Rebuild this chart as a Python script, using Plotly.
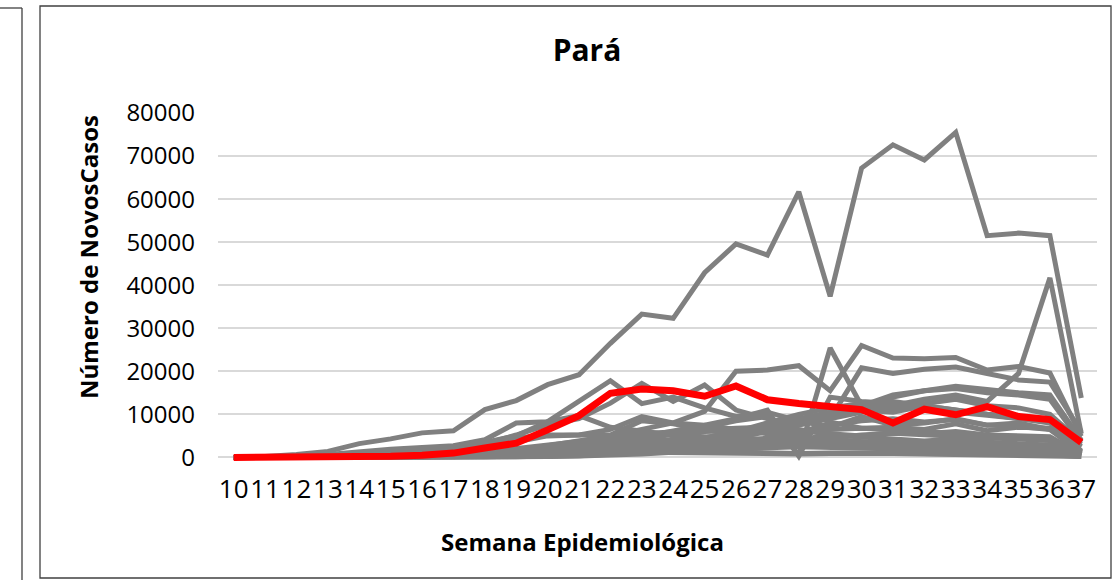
import plotly.graph_objects as go

semanas = ["10", "11", "12", "13", "14", "15", "16", "17", "18", "19", "20", "21", "22", "23",
           "24", "25", "26", "27", "28", "29", "30", "31", "32", "33", "34", "35", "36", "37"]

# Pará (destacado em vermelho)
pa = [0, 0, 20, 60, 120, 250, 500, 1000, 2200, 3300, 6400, 9700, 14900, 15900, 15500, 14200,
      16600, 13400, 12500, 11700, 11100, 8000, 11200, 9900, 11800, 9500, 8800, 3500]

# Demais estados (em cinza)
sp = [0, 200, 700, 1400, 3200, 4300, 5700, 6200, 11100, 13200, 16900, 19200, 26500, 33300, 32300,
      42900, 49600, 47000, 61700, 37400, 67200, 72600, 69100, 75500, 51500, 52100, 51500, 13800]
rj = [0, 50, 250, 700, 1400, 1900, 2300, 2700, 4100, 8000, 8300, 13000, 17800, 12500, 14000, 11500,
      9500, 10500, 8500, 7000, 9500, 7500, 8000, 9000, 7500, 8000, 6500, 2500]
ce = [0, 0, 50, 250, 600, 1000, 1600, 2300, 3200, 5200, 7600, 9000, 12600, 17200, 13000, 16800,
      11000, 9000, 6500, 5200, 4800, 4200, 3800, 4300, 3500, 3200, 2900, 1300]
am = [0, 0, 30, 150, 400, 900, 1800, 2000, 3500, 5000, 8300, 9700, 7000, 6000, 5200, 4800, 4500,
      4200, 3800, 4000, 3600, 3200, 3000, 3300, 2800, 2900, 2600, 900]
pe = [0, 0, 20, 80, 250, 600, 1200, 2000, 3000, 4500, 5200, 5300, 5200, 8500, 7800, 6500, 5500,
      6500, 4500, 8200, 6800, 7000, 6500, 7800, 6200, 7000, 6800, 1200]
ma = [0, 0, 0, 30, 100, 300, 700, 1200, 2200, 3500, 5000, 5200, 6500, 9500, 8000, 7500, 6500, 5500,
      4500, 4000, 3600, 3300, 3000, 2700, 2500, 2300, 2100, 900]
ba = [0, 0, 20, 60, 150, 300, 500, 800, 1200, 1800, 2700, 3800, 5000, 6500, 8000, 10700, 20000,
      20300, 21300, 15500, 26000, 23100, 22900, 23200, 20300, 21100, 19600, 4900]
mg = [0, 0, 10, 40, 90, 150, 250, 400, 600, 900, 1400, 2000, 2800, 4000, 5500, 7000, 8500, 9500,
      500, 25400, 12000, 14500, 15500, 16000, 15000, 14500, 13500, 3500]
go_ = [0, 0, 0, 10, 30, 60, 100, 200, 300, 500, 700, 1000, 1500, 2200, 3000, 4000, 5500, 7000,
       9000, 9000, 20800, 19500, 20500, 21000, 19500, 18000, 17500, 6000]
rs = [0, 0, 0, 10, 30, 50, 100, 150, 250, 400, 600, 800, 1200, 1800, 2500, 3500, 4500, 6000, 7500,
      9000, 10500, 12000, 13500, 14500, 13000, 19500, 41700, 5500]
sc = [0, 0, 0, 10, 20, 40, 80, 150, 250, 400, 600, 900, 1300, 1900, 2700, 3600, 4800, 6200, 7800,
      9500, 11500, 14000, 15500, 16500, 15800, 15000, 14500, 4000]
df = [0, 0, 20, 60, 120, 200, 300, 500, 800, 1200, 1800, 2500, 3500, 4800, 6000, 7500, 9000, 11000,
      300, 14000, 13000, 12500, 11500, 10500, 9800, 9000, 8500, 3000]
pr = [0, 0, 10, 40, 80, 120, 150, 200, 300, 450, 650, 900, 1300, 2000, 3000, 4500, 6000, 8000,
      10000, 11500, 12500, 13000, 12000, 11000, 10000, 9000, 8000, 2500]
mt = [0, 0, 10, 30, 60, 100, 150, 200, 280, 400, 600, 900, 1400, 2200, 3200, 4500, 6000, 7500,
      9000, 10500, 12000, 11500, 12500, 13500, 12000, 11500, 10000, 3500]
es = [0, 0, 10, 50, 150, 300, 500, 800, 1200, 2000, 3000, 3800, 4500, 5500, 6000, 6500, 6800, 7000,
      8000, 9500, 11000, 10500, 12000, 11000, 10000, 9500, 9000, 1500]
pb = [0, 0, 0, 10, 40, 100, 200, 400, 700, 1200, 2000, 2800, 3800, 4800, 5500, 6000, 6200, 6500,
      6000, 7500, 8500, 9000, 8200, 8800, 7500, 7200, 6500, 1000]
rn = [0, 0, 0, 10, 30, 80, 150, 300, 500, 800, 1300, 2000, 2800, 3500, 4200, 4500, 4400, 4200,
      3800, 5500, 5000, 5800, 5500, 6000, 5200, 5000, 4800, 700]
al = [0, 0, 0, 10, 20, 50, 120, 250, 450, 800, 1300, 1900, 2500, 3000, 3300, 3200, 3000, 2800,
      2500, 2300, 2100, 1900, 1700, 1600, 1500, 1400, 1300, 500]
se = [0, 0, 0, 5, 15, 30, 60, 120, 250, 450, 800, 1200, 1800, 2400, 2800, 3200, 3300, 3500, 3400,
      3200, 3000, 2800, 2600, 2400, 2200, 2100, 1900, 700]
pi = [0, 0, 0, 5, 15, 40, 80, 150, 300, 500, 800, 1200, 1700, 2200, 2600, 3000, 3300, 3500, 3600,
      3500, 3400, 3300, 3200, 3000, 2900, 2800, 2700, 1000]
ms = [0, 0, 0, 5, 10, 20, 40, 70, 100, 150, 250, 400, 700, 1100, 1700, 2500, 3500, 4500, 5500,
      6500, 6800, 6500, 6000, 5500, 5000, 4500, 4000, 1500]
to = [0, 0, 0, 5, 10, 20, 30, 50, 80, 120, 200, 300, 500, 800, 1200, 1700, 2300, 3000, 3800, 4500,
      5200, 5600, 5300, 5000, 4600, 4200, 3900, 1300]
ro = [0, 0, 0, 0, 5, 10, 20, 40, 80, 150, 300, 500, 800, 1100, 1400, 1700, 2000, 2300, 2500, 2600,
      2700, 2600, 2500, 2400, 2200, 2000, 1800, 600]
ap = [0, 0, 0, 5, 10, 20, 40, 80, 150, 300, 500, 800, 1200, 1600, 2000, 2400, 2700, 3000, 3000,
      2900, 2800, 2600, 2400, 2200, 2000, 1900, 1700, 600]
rr = [0, 0, 0, 10, 30, 60, 150, 300, 600, 900, 1200, 1500, 1800, 1700, 1500, 1300, 1100, 1000, 900,
      1000, 1100, 1000, 900, 800, 700, 700, 600, 200]
ac = [0, 0, 0, 5, 10, 20, 50, 100, 200, 400, 700, 900, 1100, 1200, 1100, 1000, 900, 850, 800, 900,
      1000, 900, 800, 700, 650, 600, 550, 200]

cinza = [sp, rj, ce, am, pe, ma, ba, mg, go_, rs, sc, df, pr, mt, es, pb, rn, al, se, pi, ms, to,
         ro, ap, rr, ac]

fig = go.Figure()
for serie in cinza:
    fig.add_trace(go.Scatter(x=semanas, y=serie, mode="lines",
                             line=dict(color="#808080", width=5), hoverinfo="skip"))
fig.add_trace(go.Scatter(x=semanas, y=pa, mode="lines", name="Pará",
                         line=dict(color="#FF0000", width=7)))

L, R, T, B = 218, 22, 113, 117
W, H = 1119, 580
pw, ph = W - L - R, H - T - B


def px(x):
    return (x - L) / pw


def py(y):
    return (H - B - y) / ph


fig.update_layout(
    width=W, height=H,
    margin=dict(l=L, r=R, t=T, b=B),
    paper_bgcolor="white", plot_bgcolor="white",
    showlegend=False,
    font=dict(family="Open Sans", color="#000000"),
    title=dict(text="<b>Pará</b>", x=px(587), xref="paper", xanchor="center",
               y=1 - 50 / H, yref="container", yanchor="middle",
               font=dict(size=30, family="Open Sans", color="#000000")),
    xaxis=dict(type="category", range=[-0.5, 27.5], showgrid=False, zeroline=False,
               showline=False, ticks="", tickangle=0, tickmode="array", tickvals=semanas,
               tickfont=dict(size=26, family="Open Sans", color="#000000"),
               ticklabelstandoff=8),
    yaxis=dict(range=[-1300, 80000], tickvals=[0, 10000, 20000, 30000, 40000, 50000, 60000,
                                                70000, 80000],
               ticktext=["0", "10000", "20000", "30000", "40000", "50000", "60000", "70000",
                         "80000"],
               showgrid=True, gridcolor="#D9D9D9", gridwidth=1.5, zeroline=False,
               showline=False, ticks="",
               tickfont=dict(size=24, family="Open Sans", color="#000000"),
               ticklabelstandoff=22),
    annotations=[
        dict(text="<b>Semana Epidemiológica</b>", xref="paper", yref="paper",
             x=px(582), y=py(541), xanchor="center", yanchor="middle", showarrow=False,
             font=dict(size=24, family="Open Sans", color="#000000")),
        dict(text="<b>Número de NovosCasos</b>", xref="paper", yref="paper",
             x=px(88), y=py(257), xanchor="center", yanchor="middle", textangle=-90,
             showarrow=False, font=dict(size=24, family="Open Sans", color="#000000")),
    ],
    shapes=[
        dict(type="rect", xref="paper", yref="paper", x0=px(40), x1=px(1111), y0=py(578),
             y1=py(6), line=dict(color="#404040", width=1.3), fillcolor="rgba(0,0,0,0)",
             layer="below"),
        dict(type="line", xref="paper", yref="paper", x0=px(22), x1=px(22), y0=py(580),
             y1=py(8), line=dict(color="#404040", width=1.3)),
        dict(type="line", xref="paper", yref="paper", x0=px(0), x1=px(22), y0=py(8),
             y1=py(8), line=dict(color="#404040", width=1.3)),
    ],
)

fig.write_html("out.html", config={"displayModeBar": False},
               post_script="document.body.style.margin='0';document.body.style.overflow='hidden';")
